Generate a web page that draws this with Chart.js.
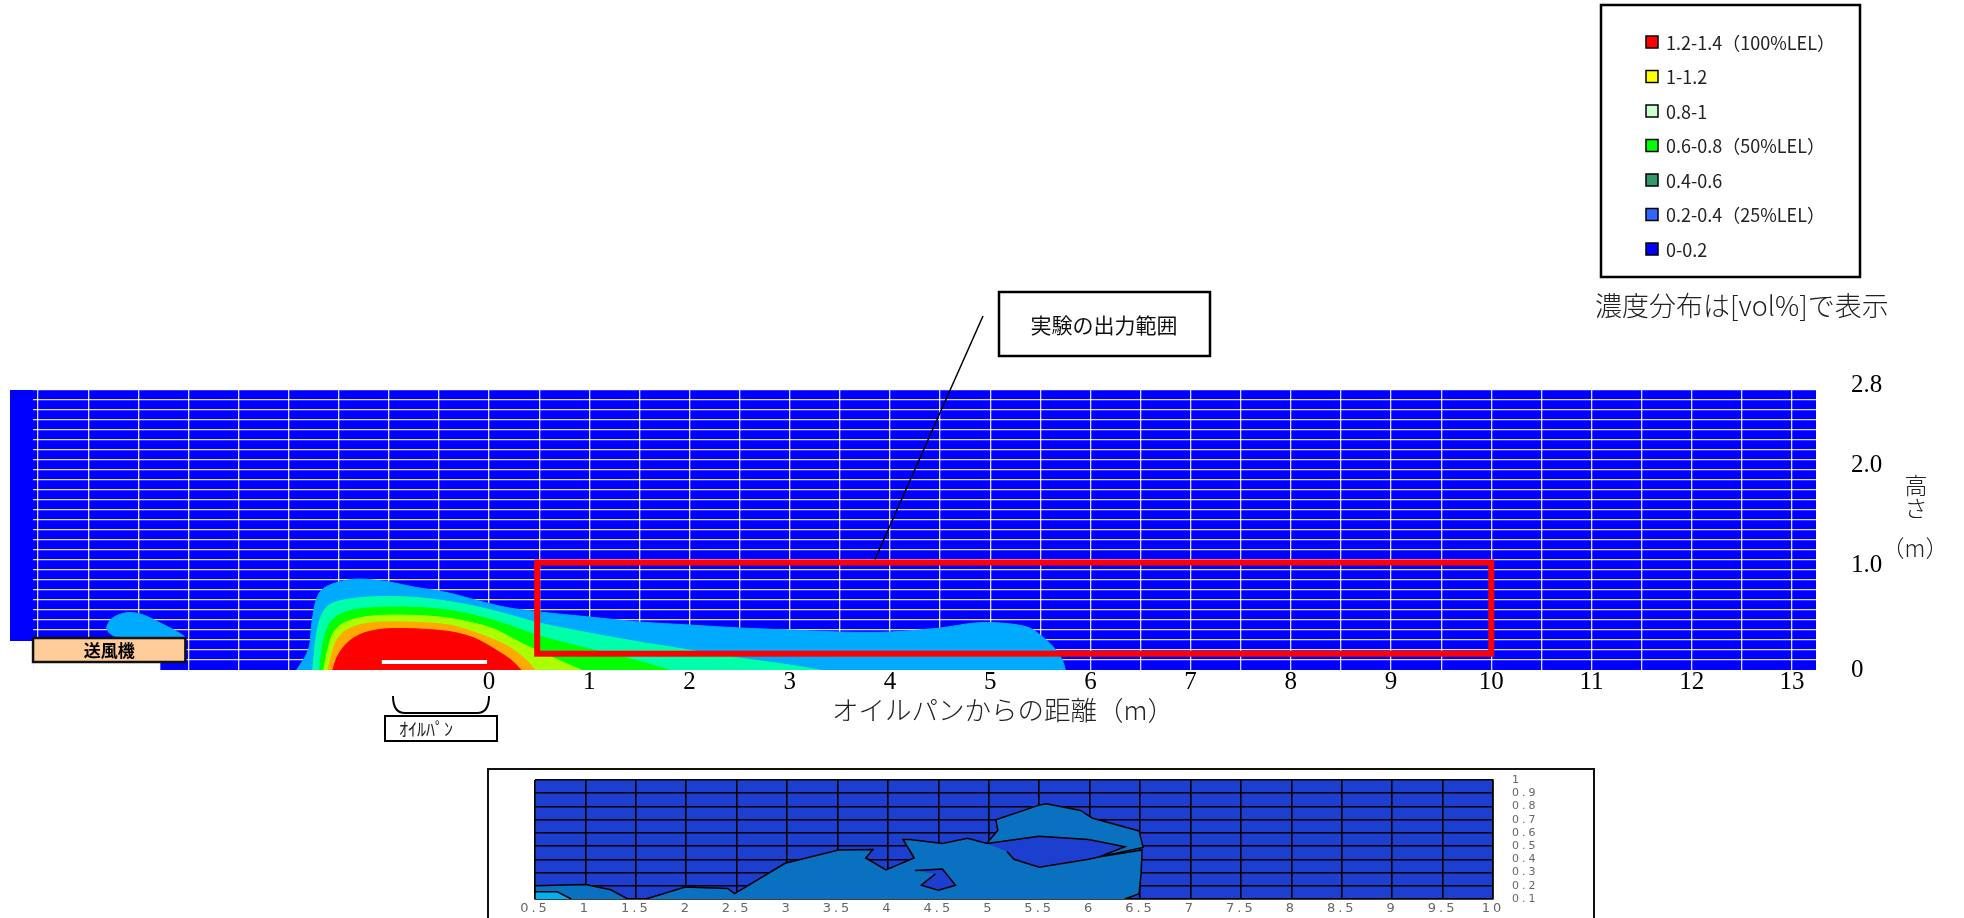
<!DOCTYPE html>
<html lang="ja">
<head>
<meta charset="utf-8">
<title>濃度分布</title>
<script src="https://cdn.jsdelivr.net/npm/chart.js@4.4.1/dist/chart.umd.min.js"></script>
<style>
  html, body { margin: 0; padding: 0; background: #fff; }
  body { width: 1964px; height: 918px; position: relative; overflow: hidden; }
  #mainChart { position: absolute; left: 0; top: 0; }
  #insetWrap { position: absolute; left: 487px; top: 768px; width: 1104px; height: 170px; border: 2px solid #111; }
  #insetChart { display: block; }
</style>
</head>
<body>
<canvas id="mainChart" width="1964" height="760"></canvas>
<div id="insetWrap"><canvas id="insetChart" width="1104" height="170"></canvas></div>
<script>
// ---------- main chart data (x: distance from oil pan [m], y: height [m]) ----------
const xLabelValues = [0, 1, 2, 3, 4, 5, 6, 7, 8, 9, 10, 11, 12, 13];
const yLabelValues = [0, 1, 2, 2.8];
const yLabelText = ['0', '1.0', '2.0', '2.8'];

const legendLabels = ['1.2-1.4（100%LEL）', '1-1.2', '0.8-1', '0.6-0.8（50%LEL）', '0.4-0.6', '0.2-0.4（25%LEL）', '0-0.2'];
const legendColors = ['#ff0000', '#ffff00', '#ccffcc', '#00ff00', '#339966', '#3366ff', '#0000ff'];

// contour bands, outer edge of each band (filled down to the floor)
const redX = [-1.56, -1.52, -1.46, -1.38, -1.25, -1.05, -0.7, -0.37, -0.15, 0.02, 0.22, 0.32];
const redY = [0, 0.12, 0.22, 0.3, 0.37, 0.41, 0.41, 0.38, 0.32, 0.23, 0.1, 0];
const orangeX = [-1.61, -1.57, -1.53, -1.45, -1.3, -1.05, -0.6, -0.35, -0.07, 0.2, 0.37, 0.46];
const orangeY = [0, 0.15, 0.28, 0.38, 0.45, 0.48, 0.47, 0.44, 0.35, 0.23, 0.1, 0];
const yellowGreenX = [-1.65, -1.61, -1.55, -1.45, -1.25, -0.9, -0.5, -0.2, 0.05, 0.32, 0.6, 0.92];
const yellowGreenY = [0, 0.2, 0.38, 0.47, 0.53, 0.55, 0.53, 0.48, 0.41, 0.27, 0.14, 0];
const greenX = [-1.69, -1.66, -1.6, -1.5, -1.3, -0.9, -0.5, -0.2, 0.1, 0.5, 1.0, 1.45, 1.8];
const greenY = [0, 0.25, 0.45, 0.55, 0.61, 0.63, 0.61, 0.56, 0.48, 0.34, 0.21, 0.1, 0];
const aquaX = [-1.76, -1.73, -1.69, -1.62, -1.5, -1.2, -0.8, -0.5, -0.2, 0.1, 0.5, 1.0, 1.5, 2.0, 2.5, 3.0, 3.3];
const aquaY = [0, 0.3, 0.5, 0.63, 0.69, 0.73, 0.73, 0.7, 0.65, 0.58, 0.47, 0.37, 0.28, 0.2, 0.12, 0.05, 0];
const lightBlueX = [-1.92, -1.88, -1.83, -1.79, -1.77, -1.74, -1.7, -1.63, -1.5, -1.3, -1.0, -0.75, -0.4, -0.1, 0.2, 0.6, 1.0, 1.5, 2.0, 2.5, 3.0, 3.5, 4.0, 4.5, 4.85, 5.1, 5.37, 5.5, 5.63, 5.72, 5.75];
const lightBlueY = [0, 0.06, 0.14, 0.25, 0.45, 0.64, 0.76, 0.83, 0.88, 0.91, 0.88, 0.83, 0.77, 0.69, 0.62, 0.57, 0.53, 0.48, 0.45, 0.42, 0.4, 0.38, 0.38, 0.42, 0.47, 0.47, 0.43, 0.35, 0.23, 0.1, 0];
// small patch above the fan
const fanPatchX = [-3.82, -3.78, -3.7, -3.6, -3.5, -3.4, -3.3, -3.18, -3.06, -3.03, -3.6, -3.74, -3.8];
const fanPatchY = [0.42, 0.5, 0.55, 0.575, 0.565, 0.53, 0.48, 0.42, 0.35, 0.32, 0.32, 0.34, 0.38];
// oil pan on the floor
const oilPanX = [-1.07, -0.02];
const oilPanY = [0.08, 0.08];
// experiment output range (red frame)
const outputRangeX = [0.48, 10.0];
const outputRangeY = [0.163, 1.075];

// ---------- inset (experiment) data ----------
const insetXTicks = [0.5, 1, 1.5, 2, 2.5, 3, 3.5, 4, 4.5, 5, 5.5, 6, 6.5, 7, 7.5, 8, 8.5, 9, 9.5, 10];
const insetYTicks = [0.1, 0.2, 0.3, 0.4, 0.5, 0.6, 0.7, 0.8, 0.9, 1];
const insetMidX = [1.6, 1.99, 2.41, 2.48, 2.98, 3.51, 3.85, 3.78, 3.98, 4.26, 4.15, 4.22, 4.54, 4.79, 4.98, 5.09, 5.07, 5.5, 5.57, 5.91, 6.03, 6.49, 6.53, 6.1, 6.52, 6.51, 6.49, 6.35];
const insetMidY = [0.1, 0.19, 0.18, 0.14, 0.37, 0.47, 0.475, 0.41, 0.32, 0.41, 0.55, 0.55, 0.52, 0.56, 0.52, 0.62, 0.7, 0.81, 0.82, 0.77, 0.71, 0.615, 0.49, 0.42, 0.47, 0.29, 0.14, 0.1];
const insetLeftX = [0.5, 0.5, 1.0, 1.25, 1.42];
const insetLeftY = [0.1, 0.2, 0.21, 0.17, 0.1];
const insetLightX = [0.5, 0.5, 0.72, 0.86];
const insetLightY = [0.1, 0.154, 0.154, 0.1];
const insetHoleAX = [4.98, 5.5, 5.99, 6.35, 6.1, 5.99, 5.5, 5.25, 5.18];
const insetHoleAY = [0.52, 0.575, 0.55, 0.495, 0.42, 0.4, 0.34, 0.4, 0.46];
const insetHoleBX = [4.27, 4.54, 4.67, 4.5, 4.33, 4.47];
const insetHoleBY = [0.315, 0.327, 0.204, 0.167, 0.204, 0.29];

const pts = (xs, ys) => xs.map((x, i) => ({ x, y: ys[i] }));

function band(label, xs, ys, color) {
    return {
        label, data: pts(xs, ys), showLine: true, fill: 'origin',
        backgroundColor: color, borderColor: color, borderWidth: 1,
        pointRadius: 0, tension: 0.3
    };
}

const gridX = Array.from({ length: 36 }, (_, i) => -4.5 + i * 0.5);
const gridY = Array.from({ length: 29 }, (_, i) => i / 10);
const zeroLabelDrop = 0.05;   // the "0" label sits a little lower than the floor line

const serif = 'Liberation Serif';
const jp = "'Noto Sans CJK JP'";

const mainDecor = {
    id: 'mainDecor',
    beforeDraw(chart) {
        const { ctx, chartArea: a } = chart;
        ctx.save();
        ctx.fillStyle = '#0000ff';
        ctx.fillRect(a.left, a.top, a.right - a.left, a.bottom - a.top);
        ctx.restore();
    },
    afterDraw(chart) {
        const { ctx, chartArea: a, scales: { x, y } } = chart;
        ctx.save();

        // inlet wall + blank floor under the fan
        const wallR = x.getPixelForValue(-4.55);
        const wallB = y.getPixelForValue(0.29);
        ctx.fillStyle = '#0000ff';
        ctx.fillRect(a.left, a.top, wallR - a.left, wallB - a.top);
        ctx.fillStyle = '#fff';
        ctx.fillRect(a.left, wallB, wallR - a.left, a.bottom - wallB + 3);
        const fanB = y.getPixelForValue(0.08);
        ctx.fillRect(wallR, fanB, x.getPixelForValue(-3.28) - wallR, a.bottom - fanB + 3);

        // fan box
        const fanL = wallR, fanR = x.getPixelForValue(-3.03), fanT = y.getPixelForValue(0.32);
        ctx.fillStyle = '#ffcc99';
        ctx.fillRect(fanL, fanT, fanR - fanL, fanB - fanT);
        ctx.lineWidth = 2.5;
        ctx.strokeStyle = '#111';
        ctx.strokeRect(fanL, fanT, fanR - fanL, fanB - fanT);
        ctx.fillStyle = '#000';
        ctx.font = `bold 17px ${jp}`;
        ctx.textAlign = 'center';
        ctx.textBaseline = 'middle';
        ctx.fillText('送風機', (fanL + fanR) / 2, (fanT + fanB) / 2 + 1);

        // experiment output range
        const rx0 = x.getPixelForValue(outputRangeX[0]), rx1 = x.getPixelForValue(outputRangeX[1]);
        const ry0 = y.getPixelForValue(outputRangeY[1]), ry1 = y.getPixelForValue(outputRangeY[0]);
        ctx.strokeStyle = '#ff0000';
        ctx.lineWidth = 6;
        ctx.strokeRect(rx0, ry0, rx1 - rx0, ry1 - ry0);

        // callout
        ctx.strokeStyle = '#000';
        ctx.lineWidth = 1.5;
        ctx.beginPath();
        ctx.moveTo(x.getPixelForValue(3.85), ry0 - 3);
        ctx.lineTo(983, 316);
        ctx.stroke();
        ctx.fillStyle = '#fff';
        ctx.fillRect(999, 292, 211, 64);
        ctx.lineWidth = 2.5;
        ctx.strokeRect(999, 292, 211, 64);
        ctx.fillStyle = '#111';
        ctx.font = `21px ${jp}`;
        ctx.fillText('実験の出力範囲', 1104, 325);

        // legend
        ctx.lineWidth = 2.5;
        ctx.strokeStyle = '#000';
        ctx.strokeRect(1601, 5, 259, 272);
        ctx.textAlign = 'left';
        ctx.font = `18px ${jp}`;
        legendLabels.forEach((label, i) => {
            const cy = 42 + i * 34.5;
            ctx.fillStyle = legendColors[i];
            ctx.fillRect(1646, cy - 6, 12, 12);
            ctx.lineWidth = 1.5;
            ctx.strokeStyle = '#000';
            ctx.strokeRect(1646, cy - 6, 12, 12);
            ctx.fillStyle = '#222';
            ctx.fillText(label, 1666, cy + 1);
        });
        ctx.font = `300 27px ${jp}`;
        ctx.fillStyle = '#222';
        ctx.fillText('濃度分布は[vol%]で表示', 1595, 306);

        // axis titles
        ctx.textAlign = 'center';
        ctx.font = `300 26.5px ${jp}`;
        ctx.fillText('オイルパンからの距離（m）', 1003, 710);
        ctx.font = `300 23px ${jp}`;
        ctx.fillText('高', 1916, 485);
        ctx.fillText('さ', 1916, 508);
        ctx.fillText('（m）', 1915, 548);

        // oil pan brace + label
        ctx.strokeStyle = '#000';
        ctx.lineWidth = 2;
        ctx.beginPath();
        ctx.moveTo(393, 696);
        ctx.quadraticCurveTo(393, 713, 405, 713);
        ctx.lineTo(477, 713);
        ctx.quadraticCurveTo(489, 713, 489, 696);
        ctx.stroke();
        ctx.strokeRect(385, 716, 112, 25);
        ctx.textAlign = 'left';
        ctx.font = `18px ${jp}`;
        ctx.fillStyle = '#222';
        ctx.fillText('ｵｲﾙﾊﾟﾝ', 399, 729);

        ctx.restore();
    }
};

new Chart(document.getElementById('mainChart'), {
    type: 'scatter',
    data: {
        datasets: [
            { label: 'oil pan', data: pts(oilPanX, oilPanY), showLine: true, borderColor: '#ffffff', borderWidth: 4, pointRadius: 0, fill: false },
            band('1.2-1.4', redX, redY, '#ff0000'),
            band('1-1.2', orangeX, orangeY, '#ffaa00'),
            band('0.8-1', yellowGreenX, yellowGreenY, '#aaff00'),
            band('0.6-0.8', greenX, greenY, '#00ff00'),
            band('0.4-0.6', aquaX, aquaY, '#00ffaa'),
            band('0.2-0.4', lightBlueX, lightBlueY, '#00aaff'),
            { label: 'fan patch', data: pts(fanPatchX, fanPatchY), showLine: true, fill: 'shape', backgroundColor: '#00aaff', borderColor: '#00aaff', borderWidth: 1, pointRadius: 0, tension: 0.3 }
        ]
    },
    options: {
        responsive: false,
        animation: false,
        events: [],
        layout: { padding: { left: 10, top: 390, right: 82, bottom: 60 } },
        plugins: { legend: { display: false }, tooltip: { enabled: false } },
        scales: {
            x: {
                type: 'linear', min: -4.78, max: 13.24, z: 1,
                afterBuildTicks: s => { s.ticks = gridX.map(v => ({ value: v })); },
                afterFit: s => { s.height = 30; },
                grid: { color: 'rgba(255,255,255,0.85)', lineWidth: 1.3, drawTicks: false },
                border: { display: false },
                ticks: {
                    autoSkip: false, maxRotation: 0, padding: -3, color: '#000',
                    font: { family: serif, size: 25 },
                    callback: v => xLabelValues.includes(v) ? String(v) : ''
                }
            },
            y: {
                type: 'linear', position: 'right', min: 0, max: 2.8, z: 1,
                afterBuildTicks: s => { s.ticks = gridY.map(v => ({ value: v === 0 ? -zeroLabelDrop : v })); },
                afterFit: s => { s.width = 66; },
                grid: {
                    color: c => c.tick && c.tick.value <= 0 ? 'rgba(0,0,0,0)' : 'rgba(255,255,255,0.85)',
                    lineWidth: 1.3, drawTicks: false
                },
                border: { display: false },
                ticks: {
                    autoSkip: false, padding: 35, labelOffset: -5, color: '#000',
                    font: { family: serif, size: 25 },
                    callback: v => {
                        const val = v < 0 ? 0 : v;
                        const i = yLabelValues.findIndex(t => Math.abs(t - val) < 1e-6);
                        return i >= 0 ? yLabelText[i] : '';
                    }
                }
            }
        }
    },
    plugins: [mainDecor]
});

// ---------- inset ----------
const insetBg = {
    id: 'insetBg',
    beforeDraw(chart) {
        const { ctx, chartArea: a } = chart;
        ctx.save();
        ctx.fillStyle = '#1c3fd0';
        ctx.fillRect(a.left, a.top, a.right - a.left, a.bottom - a.top);
        ctx.restore();
        ctx.letterSpacing = '3px';   // wide, stretched tick text like the original
    }
};

function poly(label, xs, ys, color) {
    return {
        label, data: pts(xs, ys), showLine: true, fill: 'shape',
        backgroundColor: color, borderColor: '#000', borderWidth: 1.5,
        pointRadius: 0, tension: 0
    };
}

const fmtTick = v => Number.isInteger(v) ? String(v) : v.toFixed(1);

new Chart(document.getElementById('insetChart'), {
    type: 'scatter',
    data: {
        datasets: [
            poly('hole b', insetHoleBX, insetHoleBY, '#1c3fd0'),
            poly('hole a', insetHoleAX, insetHoleAY, '#1c3fd0'),
            poly('light', insetLightX, insetLightY, '#00b0f0'),
            poly('mid left', insetLeftX, insetLeftY, '#0a70c0'),
            poly('mid', insetMidX, insetMidY, '#0a70c0')
        ]
    },
    options: {
        responsive: false,
        animation: false,
        events: [],
        layout: { padding: { left: 46, top: 10, right: 55, bottom: 21 } },
        plugins: { legend: { display: false }, tooltip: { enabled: false } },
        scales: {
            x: {
                type: 'linear', min: 0.5, max: 10, z: 1,
                afterBuildTicks: s => { s.ticks = insetXTicks.map(v => ({ value: v })); },
                afterFit: s => { s.height = 20; s.paddingLeft = 0; s.paddingRight = 0; },
                grid: { color: '#000', lineWidth: 1.6, drawTicks: false },
                border: { display: true, color: '#000', width: 1.6 },
                ticks: { autoSkip: false, maxRotation: 0, padding: 2, color: '#666', font: { family: 'DejaVu Sans', size: 13 }, callback: fmtTick }
            },
            y: {
                type: 'linear', position: 'right', min: 0.1, max: 1, z: 1,
                afterBuildTicks: s => { s.ticks = insetYTicks.map(v => ({ value: v })); },
                afterFit: s => { s.width = 45; s.paddingTop = 0; s.paddingBottom = 0; },
                grid: { color: '#000', lineWidth: 1.6, drawTicks: false },
                border: { display: true, color: '#000', width: 1.6 },
                ticks: { autoSkip: false, padding: 19, color: '#666', font: { family: 'DejaVu Sans', size: 11 }, callback: fmtTick }
            }
        }
    },
    plugins: [insetBg]
});
</script>
</body>
</html>
